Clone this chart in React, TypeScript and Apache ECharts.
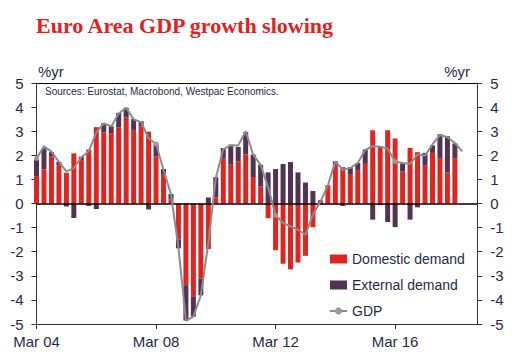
import { useEffect, useRef } from "react";
import * as echarts from "echarts";

// Quarterly, Mar 04 .. Mar 18 (components), GDP to Jun 18, %yr
const domestic = [1.13, 1.42, 1.96, 1.58, 1.28, 2.08, 1.8, 2.24, 3.17, 2.95, 2.9, 3.15, 3.57, 3.02, 3.2, 2.98, 1.96, 1.19, 0.18, -1.5, -3.39, -3.85, -3.11, -1.89, 0.25, 1.86, 1.61, 1.75, 2.04, 1.1, 0.7, -0.61, -1.94, -2.5, -2.73, -2.45, -2.17, -0.98, 0.14, 0.76, 1.61, 1.51, 1.19, 1.36, 1.68, 3.04, 2.38, 3.04, 2.7, 1.33, 2.31, 2.13, 1.57, 2.1, 1.88, 1.29, 1.88];
const external = [0.7, 0.87, 0.17, 0.15, -0.12, -0.6, 0.14, -0.1, -0.23, 0.38, 0.3, 0.61, 0.4, 0.49, 0.21, -0.25, 0.49, 0.24, 0.21, -0.36, -1.47, -0.84, -0.7, 0.25, 0.84, 0.44, 0.83, 0.6, 0.92, 0.93, 0.91, 1.29, 1.43, 1.64, 1.72, 1.29, 0.87, 0.52, -0.05, 0, 0.14, -0.1, 0.32, 0.32, 0.56, -0.67, -0.07, -0.77, -0.98, 0.34, -0.67, -0.16, 0.53, 0.31, 0.99, 1.5, 0.61];
const gdp = [1.87, 2.37, 2.15, 1.73, 1.33, 1.47, 1.92, 2.17, 2.94, 3.32, 3.2, 3.73, 3.97, 3.49, 3.37, 2.71, 2.47, 1.4, 0.37, -1.82, -4.87, -4.69, -3.81, -1.63, 1.06, 2.25, 2.42, 2.41, 3.0, 2.03, 1.6, 0.67, -0.49, -0.81, -0.95, -1.09, -1.29, -0.45, 0.07, 0.75, 1.75, 1.4, 1.47, 1.68, 2.22, 2.38, 2.35, 2.28, 1.74, 1.68, 1.65, 2.03, 1.99, 2.45, 2.84, 2.75, 2.51, 2.16];
const quarterMonths = ["Mar", "Jun", "Sep", "Dec"];
const years = ["04", "05", "06", "07", "08", "09", "10", "11", "12", "13", "14", "15", "16", "17", "18"];
const categories: string[] = [];
for (const y of years) for (const m of quarterMonths) categories.push(`${m} ${y}`);
const tickLabels = ["Mar 04", "Mar 08", "Mar 12", "Mar 16"];
const seriesNames = ["Domestic demand", "External demand", "GDP"];

export default function App() {
  const ref = useRef<HTMLDivElement>(null);
  useEffect(() => {
    document.body.style.margin = "0";
    const chart = echarts.init(ref.current!, null, { renderer: "svg" });
    const textColor = "#1f2b48";
    const sans = "'Liberation Sans', Arial, sans-serif";
    const showTick = (i: number) => tickLabels.includes(categories[i]);
    const yAxisCommon = {
      type: "value",
      min: -5,
      max: 5,
      interval: 1,
      axisLine: { show: true, onZero: false, lineStyle: { color: "#333", width: 1 } },
      axisTick: { show: true, length: 5, lineStyle: { color: "#333" } },
      axisLabel: { color: textColor, fontSize: 15, fontFamily: sans, margin: 13 },
      splitLine: { show: false },
    };
    chart.setOption({
      animation: false,
      grid: { left: 36.5, right: 43.7, top: 83, bottom: 39, containLabel: false },
      xAxis: [
        {
          type: "category",
          data: categories,
          boundaryGap: false,
          position: "bottom",
          axisLine: { show: true, onZero: false, lineStyle: { color: "#333", width: 1 } },
          axisTick: { show: true, interval: showTick, length: 5, lineStyle: { color: "#333" } },
          axisLabel: {
            interval: showTick,
            color: textColor,
            fontSize: 15,
            fontFamily: sans,
            margin: 10,
          },
          splitLine: { show: false },
        },
        {
          type: "category",
          data: categories,
          boundaryGap: false,
          position: "top",
          axisLine: { show: true, onZero: false, lineStyle: { color: "#000", width: 1.2 } },
          axisTick: { show: false },
          axisLabel: { show: false },
          splitLine: { show: false },
        },
      ],
      yAxis: [
        { ...yAxisCommon, position: "left" },
        { ...yAxisCommon, position: "right" },
      ],
      legend: {
        orient: "vertical",
        left: 324,
        top: 247,
        itemWidth: 17,
        itemHeight: 9,
        itemGap: 12,
        textStyle: { color: textColor, fontSize: 14, fontFamily: sans },
        data: [
          { name: seriesNames[0], icon: "rect" },
          { name: seriesNames[1], icon: "rect" },
          { name: seriesNames[2] },
        ],
      },
      graphic: [
        {
          type: "text",
          x: 36,
          y: 25.5,
          style: {
            text: "Euro Area GDP growth slowing",
            fontFamily: "'Liberation Serif', 'Times New Roman', serif",
            fontWeight: "bold",
            fontSize: 22,
            fill: "#e3211c",
            align: "left",
            verticalAlign: "middle",
          },
        },
        {
          type: "text",
          x: 38,
          y: 71,
          style: { text: "%yr", fontFamily: sans, fontSize: 15, fill: textColor, align: "left", verticalAlign: "middle" },
        },
        {
          type: "text",
          x: 470,
          y: 71,
          style: { text: "%yr", fontFamily: sans, fontSize: 15, fill: textColor, align: "right", verticalAlign: "middle" },
        },
        {
          type: "text",
          x: 45,
          y: 91,
          style: {
            text: "Sources: Eurostat, Macrobond, Westpac Economics.",
            fontFamily: sans,
            fontSize: 10,
            fill: textColor,
            align: "left",
            verticalAlign: "middle",
          },
        },
      ],
      series: [
        {
          name: seriesNames[0],
          type: "bar",
          stack: "demand",
          barWidth: 5,
          data: domestic,
          itemStyle: { color: "#e0241f" },
          markLine: {
            silent: true,
            symbol: "none",
            label: { show: false },
            lineStyle: { color: "#000", width: 1.5, type: "solid" },
            data: [{ yAxis: 0 }],
          },
        },
        {
          name: seriesNames[1],
          type: "bar",
          stack: "demand",
          barWidth: 5,
          data: external,
          itemStyle: { color: "#533352" },
        },
        {
          name: seriesNames[2],
          type: "line",
          z: 5,
          data: gdp,
          symbol: "circle",
          symbolSize: 5,
          lineStyle: { color: "#8c8c8c", width: 2 },
          itemStyle: { color: "#9a9a9a" },
        },
      ],
    });
    return () => chart.dispose();
  }, []);
  return <div ref={ref} style={{ width: 521, height: 363 }} />;
}
